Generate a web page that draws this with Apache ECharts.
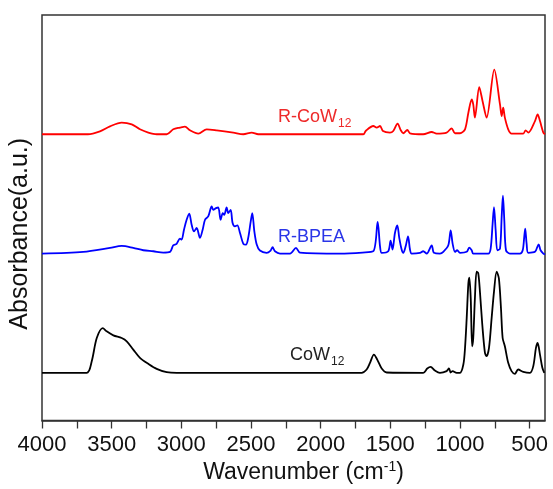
<!DOCTYPE html>
<html>
<head>
<meta charset="utf-8">
<style>
  html, body { margin: 0; padding: 0; background: #fff; }
  #chart { width: 553px; height: 489px; }
</style>
<script src="https://cdn.jsdelivr.net/npm/echarts@6/dist/echarts.min.js"></script>
</head>
<body>
<div id="chart"></div>
<script>
// FTIR spectra: [wavenumber (cm-1), absorbance above the trace's own baseline]
var spectrumRCoW12 = [
  [4000,0],[3670,0],[3584,0.03],[3512,0.08],[3428,0.117],[3356,0.10],[3297,0.05],[3237,0.017],
  [3177,0],[3105,0],[3058,0.05],[3010,0.067],[2974,0.077],[2938,0.04],[2878,0.007],[2818,0.05],
  [2746,0.04],[2627,0.017],[2555,0],[2495,0.017],[2448,0],[1694,0],[1677,0.033],[1622,0.083],
  [1598,0.067],[1574,0.083],[1553,0.033],[1503,0.017],[1479,0.033],[1448,0.107],[1426,0.043],
  [1407,0.01],[1378,0.043],[1359,0.01],[1264,0],[1203,0.023],[1168,0.007],[1096,0.017],
  [1060,0.06],[1036,0.01],[1000,0.01],[964,0.05],[940,0.217],[916,0.35],[905,0.30],[893,0.167],
  [862,0.473],[838,0.333],[809,0.167],[754,0.65],[713,0.30],[701,0.183],[690,0.267],[678,0.167],
  [654,0.05],[630,0.007],[546,0.007],[529,0.04],[510,0.017],[462,0.133],[443,0.20],[426,0.133],
  [402,0.017],[390,0]
];
var spectrumRBPEA = [
  [4000,0],[3704,0.017],[3512,0.057],[3428,0.077],[3345,0.057],[3273,0.033],[3201,0.023],
  [3130,0.01],[3081,0.017],[3058,0.083],[3034,0.097],[3010,0.15],[2998,0.14],[2981,0.24],
  [2962,0.34],[2943,0.40],[2926,0.29],[2909,0.223],[2890,0.257],[2866,0.157],[2847,0.24],
  [2830,0.34],[2807,0.373],[2782,0.473],[2771,0.44],[2751,0.457],[2735,0.463],[2718,0.34],
  [2703,0.407],[2692,0.39],[2675,0.463],[2663,0.407],[2646,0.44],[2632,0.307],[2615,0.273],
  [2598,0.283],[2579,0.207],[2555,0.097],[2536,0.09],[2520,0.157],[2502,0.323],[2491,0.407],
  [2476,0.223],[2459,0.09],[2436,0.03],[2388,0.007],[2359,0.03],[2345,0.063],[2328,0.023],
  [2292,0],[2220,0],[2177,0.057],[2149,0.01],[1862,0],[1700,0.01],[1622,0.023],[1591,0.317],
  [1574,0.073],[1562,0.007],[1515,0.023],[1498,0.13],[1484,0.04],[1467,0.207],[1450,0.283],
  [1436,0.157],[1419,0.04],[1407,0.007],[1390,0.073],[1373,0.173],[1359,0.04],[1347,0],
  [1287,0.007],[1264,0.023],[1239,0],[1203,0.083],[1187,0.007],[1144,0],[1120,0.017],
  [1084,0.083],[1067,0.233],[1053,0.10],[1036,0.017],[1020,0.033],[1000,0.007],[952,0.017],
  [933,0.06],[916,0.033],[905,0],[797,0],[780,0.05],[766,0.30],[756,0.467],[744,0.233],
  [732,0.033],[713,0.05],[701,0.367],[692,0.583],[682,0.333],[670,0.033],[642,0],[570,0],
  [550,0.033],[539,0.167],[532,0.25],[522,0.10],[510,0.007],[462,0.017],[436,0.093],
  [422,0.033],[402,0],[390,-0.01]
];
var spectrumCoW12 = [
  [4000,0],[3679,0],[3643,0.117],[3607,0.35],[3564,0.45],[3536,0.417],[3488,0.377],[3428,0.35],
  [3392,0.317],[3345,0.233],[3297,0.15],[3237,0.09],[3177,0.04],[3105,0.007],[3033,0],[1706,0],
  [1670,0.033],[1646,0.10],[1618,0.183],[1594,0.133],[1562,0.043],[1526,0.003],[1264,0],
  [1235,0.043],[1211,0.06],[1180,0.023],[1144,0],[1096,0.017],[1079,0.043],[1067,0.003],
  [1053,0.017],[1024,0],[1000,0],[976,0.083],[964,0.25],[952,0.55],[940,0.90],[933,0.957],
  [923,0.75],[913,0.267],[905,0.35],[893,0.75],[881,1.017],[869,1.0],[857,0.817],[840,0.483],
  [821,0.20],[809,0.167],[792,0.25],[773,0.55],[756,0.817],[737,1.017],[721,0.95],[706,0.65],
  [694,0.35],[678,0.267],[654,0.10],[630,0.017],[606,-0.01],[583,0.033],[546,0.01],[498,0],
  [474,0.067],[455,0.25],[443,0.30],[426,0.183],[409,0.05],[395,0]
];

// vertical offsets that stack the three traces
var seriesNames = ['R-CoW12', 'R-BPEA', 'CoW12'];
var seriesOffsets = [2.88, 1.68, 0.48];
var seriesColors = ['#ff0000', '#0000ff', '#000000'];

// x-axis ticks and labels
var tickValues = [500,750,1000,1250,1500,1750,2000,2250,2500,2750,3000,3250,3500,3750,4000];
var labelValues = [500,1000,1500,2000,2500,3000,3500,4000];

var spectra = [spectrumRCoW12, spectrumRBPEA, spectrumCoW12];

function shifted(data, offset) {
  return data.map(function (p) { return [p[0], p[1] + offset]; });
}

var chart = echarts.init(document.getElementById('chart'), null, { renderer: 'canvas' });

var FONT = '"Liberation Sans", Arial, sans-serif';

chart.setOption({
  animation: false,
  backgroundColor: '#ffffff',
  grid: {
    left: 42, right: 8, top: 15, bottom: 66,
    show: true, borderColor: '#333', borderWidth: 1.5
  },
  xAxis: {
    type: 'value',
    inverse: true,
    min: 390,
    max: 4000,
    name: 'Wavenumber (cm{sup|-1})',
    nameLocation: 'middle',
    nameGap: 40,
    nameTextStyle: {
      fontFamily: FONT, fontSize: 23, color: '#111',
      padding: [0, 0, 0, 20],
      rich: {
        sup: { fontFamily: FONT, fontSize: 14, color: '#111', verticalAlign: 'top', padding: [0, 0, 10, 0] }
      }
    },
    axisLine: { show: true, lineStyle: { color: '#333', width: 1.5 } },
    axisTick: { show: true, inside: false, length: 8, customValues: tickValues, lineStyle: { color: '#333', width: 1.3 } },
    axisLabel: {
      customValues: labelValues, margin: 13, fontFamily: FONT, fontSize: 22, color: '#111',
      formatter: function (v) { return String(v); }
    },
    splitLine: { show: false }
  },
  yAxis: {
    type: 'value',
    min: 0,
    max: 4.08,
    name: 'Absorbance(a.u.)',
    nameLocation: 'middle',
    nameGap: 9,
    nameTextStyle: { fontFamily: FONT, fontSize: 25, color: '#111', padding: [0, 32, 0, 0] },
    axisLine: { show: false },
    axisTick: { show: false },
    axisLabel: { show: false },
    splitLine: { show: false }
  },
  series: spectra.map(function (d, i) {
    return {
      name: seriesNames[i],
      type: 'line',
      data: shifted(d, seriesOffsets[i]),
      showSymbol: false,
      smooth: 0.3,
      lineStyle: { color: seriesColors[i], width: 1.8 },
      z: 3 - i
    };
  }),
  graphic: [
    {
      type: 'text', left: 278, top: 108,
      style: {
        text: '{m|R-CoW}{s|12}',
        rich: {
          m: { fontFamily: FONT, fontSize: 18, fill: '#ee2a2a', lineHeight: 22, verticalAlign: 'bottom' },
          s: { fontFamily: FONT, fontSize: 12, fill: '#ee2a2a', lineHeight: 14, verticalAlign: 'bottom', padding: [0, 0, -4, 1] }
        }
      }
    },
    {
      type: 'text', left: 278, top: 228,
      style: { text: 'R-BPEA', font: '18px ' + FONT, fill: '#2a35e8' }
    },
    {
      type: 'text', left: 290, top: 346,
      style: {
        text: '{m|CoW}{s|12}',
        rich: {
          m: { fontFamily: FONT, fontSize: 18, fill: '#222', lineHeight: 22, verticalAlign: 'bottom' },
          s: { fontFamily: FONT, fontSize: 12, fill: '#222', lineHeight: 14, verticalAlign: 'bottom', padding: [0, 0, -4, 1] }
        }
      }
    }
  ]
});
</script>
</body>
</html>
